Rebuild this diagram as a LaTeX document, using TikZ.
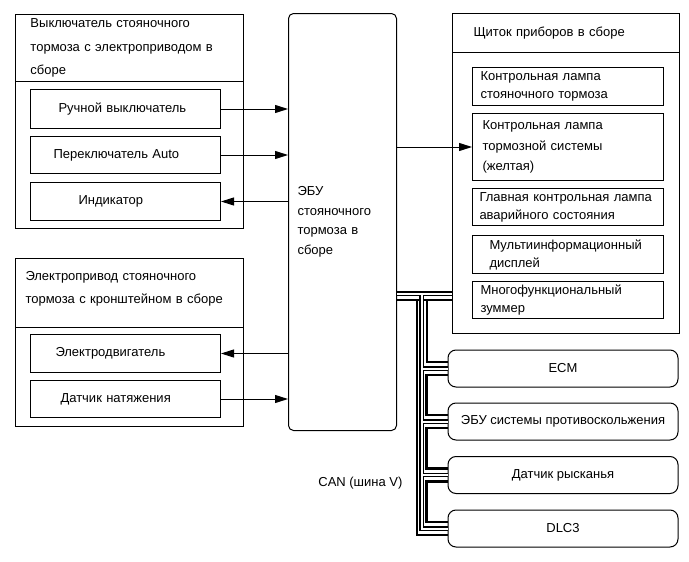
\documentclass[tikz,border=0pt]{standalone}
\usepackage{fontspec}
\setmainfont{Liberation Sans}
\usetikzlibrary{arrows.meta,positioning}

\begin{document}
\begin{tikzpicture}[
  x=1pt,y=-1pt,
  font=\fontsize{13}{18}\selectfont,
  frame/.style={draw,line width=1pt,inner sep=0pt,anchor=north west},
  part/.style={frame,minimum width=190pt,align=left},
  lamp/.style={frame,minimum width=191pt,align=left},
  unit/.style={draw,line width=1pt,rounded corners=8pt,minimum width=230pt,minimum height=37pt},
  arr/.style={-{Triangle[length=13pt,width=8pt]},line width=1pt},
  wire/.style={line width=2.6pt},
  pipe/.style={double,double distance=2pt,line width=1.1pt},
]
  \useasboundingbox (0,0) rectangle (689,562);

  % Parking brake switch assembly
  \node[frame,minimum width=228pt,minimum height=214pt] (sw) at (15,14) {};
  \node[frame,minimum width=228pt,minimum height=67pt,text width=198pt,inner xsep=15pt,align=left,
        font=\fontsize{13}{23.5}\selectfont] (swhead) at (sw.north west)
       {Выключатель стояночного\\тормоза с электроприводом в\\сборе};
  \node[part,minimum height=39pt,text width=134pt,inner xsep=28pt] (hand) at (30,89) {Ручной выключатель};
  \node[part,minimum height=37pt,text width=144pt,inner xsep=23pt] (auto) at (30,136) {Переключатель Auto};
  \node[part,minimum height=38pt,text width=94pt,inner xsep=48pt] (ind) at (30,182) {Индикатор};

  % Actuator with bracket
  \node[frame,minimum width=228pt,minimum height=168pt] (act) at (15,258) {};
  \node[frame,minimum width=228pt,minimum height=69pt,text width=208pt,inner xsep=10pt,align=left,
        font=\fontsize{13}{23}\selectfont] (acthead) at (act.north west)
       {Электропривод стояночного\\тормоза с кронштейном в сборе\\[-11pt]\mbox{}};
  \node[part,minimum height=38pt,text width=140pt,inner xsep=25pt] (motor) at (30,334) {Электродвигатель};
  \node[part,minimum height=37pt,text width=130pt,inner xsep=30pt] (tension) at (30,380) {Датчик натяжения};

  % ECU
  \node[frame,rounded corners=5pt,minimum width=108pt,minimum height=417pt,text width=90pt,inner xsep=9pt,
        align=left,font=\fontsize{13}{19.5}\selectfont] (ecu) at (288,13)
       {ЭБУ\\стояночного\\тормоза в\\сборе};

  % Combination meter
  \node[frame,minimum width=227pt,minimum height=320pt] (cluster) at (452,13) {};
  \node[frame,minimum width=227pt,minimum height=39pt,text width=185pt,inner xsep=21pt,align=left]
       (clhead) at (cluster.north west) {Щиток приборов в сборе};
  \node[lamp,minimum height=38pt,text width=175pt,inner xsep=8pt] (lamp1) at (472,67)
       {Контрольная лампа\\стояночного тормоза};
  \node[lamp,minimum height=67pt,text width=171pt,inner xsep=10pt,font=\fontsize{13}{20.5}\selectfont]
       (lamp2) at (472,113) {Контрольная лампа\\тормозной системы\\(желтая)};
  \node[lamp,minimum height=37pt,text width=177pt,inner xsep=7pt] (lamp3) at (472,188)
       {Главная контрольная лампа\\аварийного состояния};
  \node[lamp,minimum height=38pt,text width=157pt,inner xsep=17pt] (lamp4) at (472,235)
       {Мультиинформационный\\дисплей};
  \node[lamp,minimum height=37pt,text width=175pt,inner xsep=8pt] (lamp5) at (472,281)
       {Многофункциональный\\зуммер};

  % Units on the bus
  \node[unit] (ecm) at (563,368.5) {ECM};
  \node[unit] (abs) at (563,421.5) {ЭБУ системы противоскольжения};
  \node[unit] (yaw) at (563,475) {Датчик рысканья};
  \node[unit] (dlc) at (563,528.5) {DLC3};

  % Signals
  \draw[arr] (hand.east) -- (hand.east -| ecu.west);
  \draw[arr] (auto.east) -- (auto.east -| ecu.west);
  \draw[arr] (ind.east -| ecu.west) -- (ind.east);
  \draw[arr] (motor.east -| ecu.west) -- (motor.east);
  \draw[arr] (tension.east) -- (tension.east -| ecu.west);
  \draw[arr] (lamp2.west -| ecu.east) -- (lamp2.west);

  % CAN bus
  \coordinate (canA) at (417,300);
  \coordinate (canB) at (421.5,293.5);
  \coordinate (canC) at (427,300);
  \draw[wire] (canA -| ecu.east) -- (canA -| cluster.west);
  \draw[wire] (canA) |- ([yshift=-6.5pt]dlc.west);
  \draw[wire] (canC) |- ([yshift=6.5pt]ecm.west);
  \foreach \a/\b in {ecm/abs,abs/yaw,yaw/dlc}
    \draw[wire] ([yshift=-6.5pt]\a.west) -| ([xshift=-21pt,yshift=6.5pt]\b.west) -- ([yshift=6.5pt]\b.west);
  \draw[pipe] (canB -| ecu.east) -- (canB -| cluster.west) (canB) |- (dlc.west)
    foreach \n in {ecm,abs,yaw} {(canB |- \n.west) -- (\n.west)};

  \node[anchor=east] (canlbl) at (406,483) {CAN (шина V)};
\end{tikzpicture}
\end{document}
